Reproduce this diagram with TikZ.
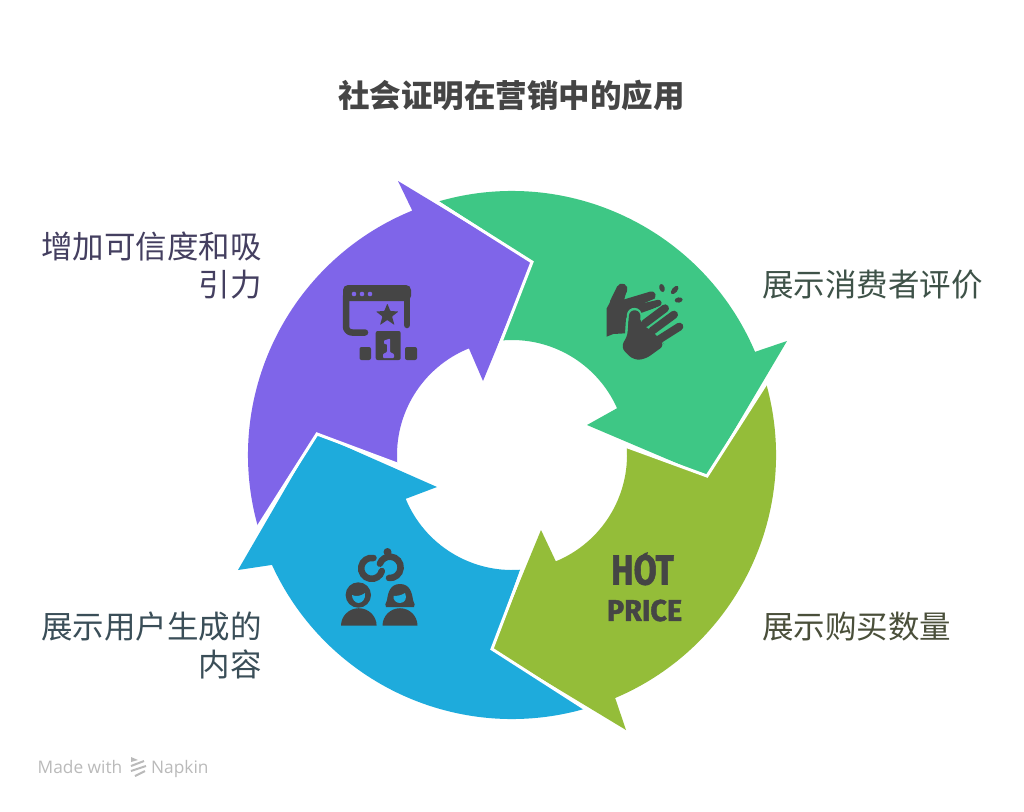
\documentclass[tikz,border=0pt]{standalone}
\usepackage{fontspec}
\newfontfamily\cjk{Noto Sans CJK SC}
\newfontfamily\lab{Open Sans}
\newfontfamily\hot[FakeBold=1.5]{Fira Sans}
\definecolor{cgreen}{HTML}{3EC785}
\definecolor{colive}{HTML}{94BD39}
\definecolor{cblue}{HTML}{1EABDC}
\definecolor{cpurple}{HTML}{7F65E9}
\definecolor{icon}{HTML}{454545}
\definecolor{tpurple}{HTML}{443F60}
\definecolor{tgreen}{HTML}{3E5248}
\definecolor{tolive}{HTML}{4A4F3A}
\definecolor{tblue}{HTML}{3A4E58}
\tikzset{
  seam/.style={draw=white,line width=3pt,line join=miter,miter limit=10},
  lbl/.style={font=\cjk\fontsize{31.5}{38}\selectfont,inner sep=0pt},
  lblr/.style={lbl,align=right,anchor=east},
  lbll/.style={lbl,align=left,anchor=west},
  frame stroke/.style={draw=icon,line width=6.5pt,line cap=round,line join=round,rounded corners=6pt},
  finger/.style={draw=icon,line width=8pt,line cap=round},
  link/.style={draw=icon,line width=6.5pt,line cap=round},
  foot/.style={inner sep=0pt,anchor=base west,text=black!27,font=\lab\fontsize{17.3}{17.3}\selectfont},
}
\newcommand{\pol}[2]{([shift={(#1:#2)}]512,455)}
\begin{document}
\begin{tikzpicture}[x=1pt,y=1pt,yscale=-1]
\useasboundingbox (0,0) rectangle (1024,811);
\fill[white] (0,0) rectangle (1024,811);
% ring segments
\fill[cgreen] \pol{-106}{264} arc[start angle=-106,end angle=-23,radius=264]
  -- (787,341) -- (707,476) -- (587,425) -- \pol{-24}{115} arc[start angle=-24,end angle=-95,radius=115]
  -- (533,262) -- cycle;
\fill[colive] \pol{-16}{264} arc[start angle=-16,end angle=67,radius=264]
  -- (626,730) -- (492,649) -- (541,530) -- \pol{67.6}{115} arc[start angle=67.6,end angle=-4,radius=115]
  -- (707,476) -- cycle;
\fill[cblue] \pol{74}{264} arc[start angle=74,end angle=155.4,radius=264]
  -- (238,570) -- (317,434) -- (437,487) -- \pol{157.6}{115} arc[start angle=157.6,end angle=86,radius=115]
  -- (492,649) -- cycle;
\fill[cpurple] \pol{164.2}{264} arc[start angle=164.2,end angle=247.8,radius=264]
  -- (398,181) -- (532,262) -- (483,381) -- \pol{248}{115} arc[start angle=248,end angle=176,radius=115]
  -- (317,434) -- cycle;
% white seams between the arrows
\draw[seam] (769,379) -- (707,476) -- (625,446);
\draw[seam] (587,710) -- (492,649) -- (524,565);
\draw[seam] (256,530) -- (317,434) -- (400,465);
\draw[seam] (437,202) -- (532,262) -- (499,347);
% title and labels
\node[lbl,font=\cjk\bfseries\fontsize{31.5}{38}\selectfont,text=icon] (title) at (511.5,95) {社会证明在营销中的应用};
\node[lblr,text=tpurple] (lpurple) at (262,266) {增加可信度和吸\\引力};
\node[lbll,text=tgreen] (lgreen) at (762,285) {展示消费者评价};
\node[lbll,text=tolive] (lolive) at (762,627) {展示购买数量};
\node[lblr,text=tblue] (lblue) at (262,645) {展示用户生成的\\内容};
% purple icon: window + star + podium
\fill[icon,rounded corners=5pt] (343,301) -- (343,285) -- (411,285) -- (411,301) -- cycle;
\draw[frame stroke,rounded corners=0pt] (407,325) -- (407,296);
\draw[frame stroke] (346,296) -- (346,332.5) -- (365,332.5);
\fill[cpurple] (354,294) circle (2.3) (362,294) circle (2.3) (370,294) circle (2.3);
\fill[icon,rounded corners=.7pt] (387.3,303.5) -- (390.3,311) -- (398.5,311.5) -- (392,316.5) -- (394.5,325) -- (387.3,320) -- (380,325) -- (382.5,316.5) -- (376,311.5) -- (384.3,311) -- cycle;
\fill[icon,rounded corners=2pt] (375.7,331) rectangle (400.7,360);
\fill[icon,rounded corners=2pt] (359.5,347) rectangle (371,360);
\fill[icon,rounded corners=2pt] (405,347) rectangle (417,360);
\fill[cpurple,rounded corners=0.8pt] (384,340.5) -- (390,338.5) -- (390,352) -- (394,354) -- (394,358) -- (383,358) -- (383,354) -- (387,352) -- (387,344) -- (384,344) -- cycle;
% clap icon, in crop units
\begin{scope}[shift={(590,270)},scale=1/3]
  \fill[icon] (50,115) -- (75,70) -- (110,60) -- (100,100) -- (185,70) -- (195,85) -- (150,105) -- (205,95) -- (212,108) -- (150,130) -- (108,145) -- (105,190) -- (70,192) -- (50,200) -- cycle;
  \draw[icon,line width=11pt,line cap=round] (96,57) -- (75,100);
  \draw[finger] (105,100) -- (185,76);
  \draw[finger,line width=6.5pt] (150,112) -- (205,99);
  \draw[cgreen,line width=5.5pt] (150,145) -- (228,108);
  \draw[cgreen,line width=15pt,line cap=round] (133,136) -- (130,200);
  \fill[icon,rounded corners=6pt] (92,232) -- (115,192) -- (115,140) -- (150,140) -- (155,165) -- (187,182) -- (210,210) -- (225,225) -- (165,268) -- (130,270) -- cycle;
  \draw[icon,line width=11.5pt,line cap=round] (134,138) -- (130,190);
  \draw[finger] (165,160) -- (225,115);
  \draw[finger] (187,182) -- (252,134);
  \draw[finger] (208,208) -- (268,170);
  \fill[icon,rotate around={-15:(216,54)}] (216,54) ellipse (7.8 and 12.5);
  \fill[icon,rotate around={40:(254,60)}] (254,60) ellipse (7.8 and 15);
  \fill[icon,rotate around={80:(266,90)}] (266,90) ellipse (7.8 and 12);
\end{scope}
% hot price icon (letters as real text)
\node[inner sep=0pt,text=icon,font=\hot\bfseries\fontsize{42}{42}\selectfont,xscale=.8] (hot) at (642.5,570) {\special{pdf:code 1 j 1 J}HOT};
\node[inner sep=0pt,text=icon,font=\hot\bfseries\fontsize{30}{30}\selectfont,xscale=.96] (price) at (644.5,610.5) {\special{pdf:code 1 j 1 J}PRICE};
\fill[icon] (641,558) .. controls (641,555) and (644,553) .. (648,552) .. controls (646,555) and (648,557) .. (647,560) -- cycle;
% people icon
\draw[link] (373.5,558) arc[start angle=-80,end angle=-345,radius=10.5];
\draw[link] (389,578) arc[start angle=95,end angle=-160,radius=10.7];
\fill[icon] (387.5,552) circle (4);
% left person
\fill[icon] (358.3,595) circle (12.7);
\fill[icon] (341,625.7) arc[start angle=180,end angle=360,x radius=17.8,y radius=17.5] -- cycle;
\fill[cblue] (352,595) .. controls (356,597) and (361,596) .. (365,593) .. controls (366,599) and (362,603) .. (358.5,603) .. controls (355,603) and (352,599) .. (352,595) -- cycle;
% right person
\fill[icon] (400,584) .. controls (410,584) and (412,593) .. (413,600) .. controls (414,604) and (416,605) .. (414,607) -- (407,607) -- (392,607) -- (386,607) .. controls (384,605) and (386,604) .. (387,600) .. controls (388,593) and (390,584) .. (400,584) -- cycle;
\fill[icon] (382.5,625.7) arc[start angle=180,end angle=360,x radius=17.5,y radius=17.5] -- cycle;
\fill[cblue] (393.5,596) .. controls (398,596) and (402,595) .. (405,593) .. controls (407.5,598) and (405,603) .. (400,603) .. controls (396,603) and (393,600) .. (393.5,596) -- cycle;
% footer
\node[foot] (made) at (37.5,773) {Made with};
\node[foot] (napkin) at (151,773) {Napkin};
\draw[black!27,line width=2pt] (131,766) -- (144,761) (131,771) -- (146,766) (135,776) -- (145,771);
\fill[black!27] (131,762) -- (131,757) -- (138,760) -- cycle;
\end{tikzpicture}
\end{document}
